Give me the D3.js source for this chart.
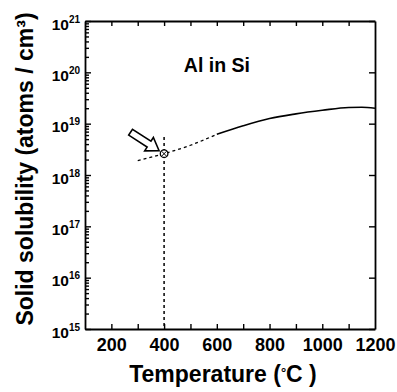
<!DOCTYPE html>
<html>
<head>
<meta charset="utf-8">
<script src="https://cdn.jsdelivr.net/npm/d3@7"></script>
<style>
  body { margin: 0; background: #fff; }
  svg, svg text { font-family: "Liberation Sans", Arial, sans-serif; font-weight: bold; }
  .axis path, .axis line { stroke: #000; }
  .axis .domain { stroke-width: 1.8; }
  .axis .tick line { stroke-width: 1.4; }
</style>
</head>
<body>
<div id="chart"></div>
<script>
// --- Data ---
const dashedTemp = [300, 400, 500, 600];
const dashedSol = [1.9e18, 2.6e18, 3.8e18, 6.2e18];

const solidTemp = [600, 700, 800, 900, 1000, 1100, 1150, 1200];
const solidSol = [6.2e18, 9.1e18, 1.26e19, 1.55e19, 1.82e19, 2.07e19, 2.09e19, 2.0e19];

const markTemp = 400;
const markSol = 2.6e18;
const guideTop = 5.5e18;

const xTickLabels = [200, 400, 600, 800, 1000, 1200];
const xTickMarks = [200, 300, 400, 500, 600, 700, 800, 900, 1000, 1100];
const yExponents = [15, 16, 17, 18, 19, 20, 21];

// --- Plot sizing ---
const W = 397, H = 392;
const margin = { top: 21, left: 85, right: 22, bottom: 63 };
const width = W - margin.left - margin.right;
const height = H - margin.top - margin.bottom;

const x = d3.scaleLinear().domain([100, 1200]).range([0, width]);
const y = d3.scaleLog().domain([1e15, 1e21]).range([height, 0]);

const svg = d3.select("#chart").append("svg")
  .attr("width", W)
  .attr("height", H);

const g = svg.append("g")
  .attr("transform", `translate(${margin.left},${margin.top})`);

// minor log ticks on the left
const minorVals = [];
for (let e = 15; e < 21; e++) {
  for (let k = 2; k <= 9; k++) minorVals.push(k * Math.pow(10, e));
}
const majorVals = yExponents.map(e => Math.pow(10, e));

// AXIS
g.append("g")
  .attr("class", "axis")
  .call(d3.axisLeft(y).tickValues(minorVals).tickSize(-4).tickFormat(""))
  .select(".domain").remove();

const yAx = g.append("g")
  .attr("class", "axis axis--y")
  .call(d3.axisLeft(y).tickValues(majorVals).tickSize(-6).tickPadding(5).tickSizeOuter(0));

yAx.selectAll(".tick text").each(function (d) {
  const t = d3.select(this).text(null)
    .attr("x", -5).attr("dy", null).attr("y", 8)
    .attr("fill", "#000");
  t.append("tspan").text("10").attr("font-size", 15.5);
  t.append("tspan").text(Math.round(Math.log10(d)))
    .attr("font-size", 10).attr("dy", -7);
});

g.append("g")
  .attr("class", "axis axis--right")
  .attr("transform", `translate(${width},0)`)
  .call(d3.axisRight(y).tickValues(majorVals).tickSize(-6).tickFormat("").tickSizeOuter(0));

g.append("g")
  .attr("class", "axis axis--x")
  .attr("transform", `translate(0,${height})`)
  .call(d3.axisBottom(x).tickValues(xTickMarks).tickSize(-5).tickFormat("").tickSizeOuter(0));

g.append("g")
  .attr("class", "axis axis--top")
  .call(d3.axisTop(x).tickValues(xTickMarks).tickSize(-5).tickFormat("").tickSizeOuter(0));

g.append("g")
  .attr("class", "axis")
  .attr("transform", `translate(0,${height})`)
  .call(d3.axisBottom(x).tickValues(xTickLabels).tickSize(0).tickPadding(9).tickFormat(d3.format("d")))
  .call(s => s.select(".domain").remove())
  .selectAll("text")
  .attr("font-size", 18)
  .attr("fill", "#000");

// titles
const xt = svg.append("text")
  .attr("x", 223)
  .attr("y", 382)
  .attr("text-anchor", "middle")
  .attr("font-size", 23);
xt.append("tspan").text("Temperature (");
xt.append("tspan").text("\u00b0").attr("font-size", 13).attr("dy", -5);
xt.append("tspan").text("C )").attr("dy", 5);

svg.append("text")
  .attr("transform", `translate(33,169) rotate(-90)`)
  .attr("text-anchor", "middle")
  .attr("font-size", 23)
  .text("Solid solubility (atoms / cm\u00b3)");

g.append("text")
  .attr("x", x(475))
  .attr("y", y(1e20))
  .attr("font-size", 19.5)
  .text("Al in Si");

// curves
const line = d3.line().x(d => x(d[0])).y(d => y(d[1])).curve(d3.curveMonotoneX);

g.append("path")
  .datum(dashedTemp.map((t, i) => [t, dashedSol[i]]))
  .attr("d", line)
  .attr("fill", "none")
  .attr("stroke", "#000")
  .attr("stroke-width", 1.3)
  .attr("stroke-dasharray", "3,3");

g.append("path")
  .datum(solidTemp.map((t, i) => [t, solidSol[i]]))
  .attr("d", line)
  .attr("fill", "none")
  .attr("stroke", "#000")
  .attr("stroke-width", 1.6);

// vertical guide at 400
g.append("line")
  .attr("x1", x(markTemp)).attr("x2", x(markTemp))
  .attr("y1", y(guideTop)).attr("y2", height)
  .attr("stroke", "#000")
  .attr("stroke-width", 1.5)
  .attr("stroke-dasharray", "3,3");

// marker
const mx = x(markTemp), my = y(markSol);
g.append("circle")
  .attr("cx", mx).attr("cy", my).attr("r", 3.8)
  .attr("fill", "#fff").attr("stroke", "#000").attr("stroke-width", 1.3);
g.append("path")
  .attr("d", `M${mx - 2.5},${my - 2.5}L${mx + 2.5},${my + 2.5}M${mx - 2.5},${my + 2.5}L${mx + 2.5},${my - 2.5}`)
  .attr("stroke", "#000").attr("stroke-width", 1);

// hollow arrow pointing at the marker
const ang = 33;
g.append("path")
  .attr("transform", `translate(${mx - 5},${my - 3}) rotate(${ang})`)
  .attr("d", "M0,0 L-12,-8 L-12,-3.5 L-34,-3.5 L-34,3.5 L-12,3.5 L-12,8 Z")
  .attr("fill", "#fff")
  .attr("stroke", "#000")
  .attr("stroke-width", 1.6)
  .attr("stroke-linejoin", "miter");
</script>
</body>
</html>
